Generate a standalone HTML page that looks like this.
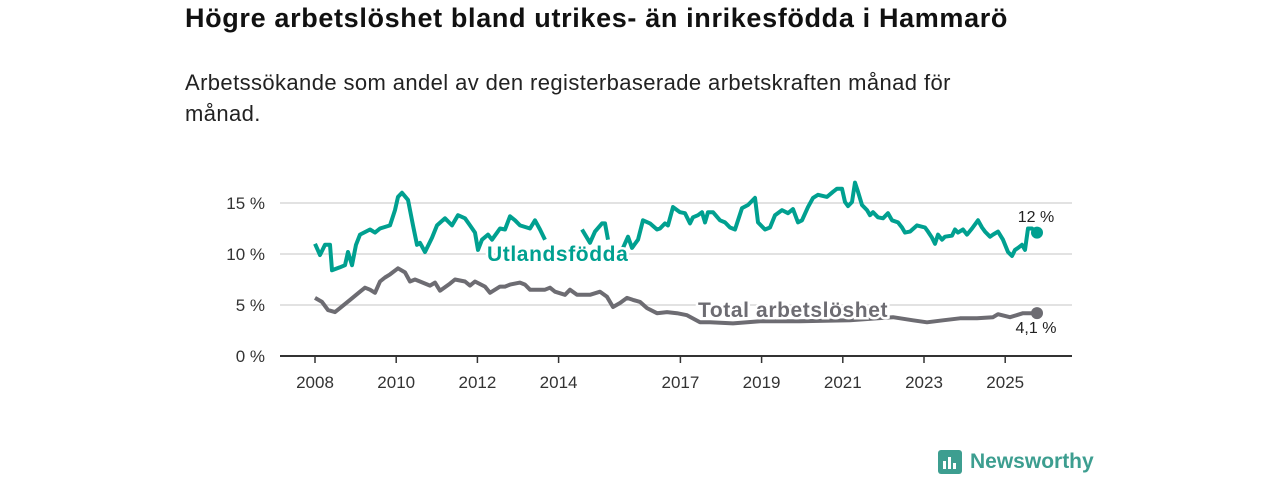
<!DOCTYPE html>
<html><head><meta charset="utf-8"><style>
body{margin:0;width:1280px;height:480px;background:#fff;font-family:"Liberation Sans",sans-serif;overflow:hidden;position:relative}
h1{position:absolute;left:185px;top:3px;margin:0;font-size:27px;letter-spacing:0.65px;font-weight:bold;color:#111;white-space:nowrap}
p{position:absolute;left:185px;top:67px;margin:0;font-size:22px;letter-spacing:0.4px;line-height:31px;color:#222;width:830px}
svg{position:absolute;left:0;top:0}
</style></head><body>
<h1>Högre arbetslöshet bland utrikes- än inrikesfödda i Hammarö</h1>
<p>Arbetssökande som andel av den registerbaserade arbetskraften månad för månad.</p>
<svg id="c" width="1280" height="480"></svg>
<script>
const yTicks=[0,5,10,15];
const xTicks=[2008,2010,2012,2014,2017,2019,2021,2023,2025];
const utlX=[315,320,325,330,332,340,345,348,352,356,360,370,375,380,390,395,398,402,408,413,417,420,425,432,437,445,452,458,465,470,475,478,482,488,492,500,505,510,515,520,530,535,540,545,null,582,590,595,602,605,608,null,623,628,632,638,643,650,657,660,665,668,673,680,685,690,693,698,702,705,708,713,720,725,730,735,742,748,755,758,765,770,775,782,788,793,798,802,808,813,818,827,833,837,842,845,848,852,855,858,862,867,870,873,878,883,888,892,898,902,905,910,917,925,928,932,935,938,942,945,952,955,958,963,967,972,978,982,985,990,993,998,1003,1008,1012,1015,1018,1022,1025,1028,1032,1037];
const utlY=[244,255,245,245,270,267,265,252,265,245,235,230,233,228,225,210,197,193,200,225,245,243,252,238,225,218,225,215,218,225,233,250,240,235,240,228,230,216,220,225,228,220,230,240,null,230,243,232,223,223,240,null,248,237,248,240,220,223,230,228,223,225,207,212,213,223,217,215,212,222,212,212,220,222,227,230,208,205,198,222,230,227,215,210,213,209,222,220,207,198,195,197,192,189,189,202,206,202,183,192,205,210,215,212,217,218,213,220,222,227,233,232,225,227,232,238,244,235,240,237,236,230,233,230,235,228,220,227,232,237,235,232,240,252,256,250,248,245,250,228,228,233];
const utlV=utlY.map(v=>v==null?null:+((356-v)/10.2).toFixed(1));
const totX=[315,322,328,335,340,350,360,365,370,375,380,385,390,398,405,410,415,420,430,435,440,450,455,465,470,475,485,490,495,500,505,510,520,525,530,535,545,550,555,565,570,577,590,600,607,613,620,627,633,640,647,657,667,677,687,700,710,733,760,800,850,893,913,927,943,960,977,993,998,1010,1023,1037];
const totV=[5.7,5.3,4.5,4.3,4.7,5.5,6.3,6.7,6.5,6.2,7.3,7.7,8.0,8.6,8.2,7.3,7.5,7.3,6.9,7.2,6.4,7.1,7.5,7.3,6.9,7.3,6.8,6.2,6.5,6.8,6.8,7.0,7.2,7.0,6.5,6.5,6.5,6.7,6.3,6.0,6.5,6.0,6.0,6.3,5.8,4.8,5.2,5.7,5.5,5.3,4.7,4.2,4.3,4.2,4.0,3.3,3.3,3.2,3.4,3.4,3.5,3.8,3.5,3.3,3.5,3.7,3.7,3.8,4.1,3.8,4.2,4.2];
const NS='http://www.w3.org/2000/svg',svg=document.getElementById('c');
const y=v=>356-v*10.2, xy=yr=>315+(yr-2008)*40.6;
function el(t,a,txt){const e=document.createElementNS(NS,t);for(const k in a)e.setAttribute(k,a[k]);if(txt!=null)e.textContent=txt;svg.appendChild(e);return e;}
yTicks.forEach(t=>{
 const g=el('line',{x1:280,x2:1072,y1:y(t),y2:y(t),stroke:t?'#d8d8d8':'#333','stroke-width':t?1.5:2});
 
 
 const l=el('text',{x:265,y:y(t)+6,'text-anchor':'end','font-size':17,fill:'#333'},t+' %');
 
 
});
xTicks.forEach(t=>{
 const tk=el('line',{x1:xy(t),x2:xy(t),y1:356,y2:363,stroke:'#333','stroke-width':1.5});
 
 
 const l=el('text',{x:xy(t),y:388,'text-anchor':'middle','font-size':17,fill:'#333'},t);
 
 
});
function path(X,V){let d='',m=true;X.forEach((x,i)=>{if(x==null){m=true;return;}d+=(m?'M':'L')+x+','+y(V[i]).toFixed(1);m=false;});return d;}
const pt=el('path',{d:path(totX,totV),fill:'none',stroke:'#6d6c72','stroke-width':4,'stroke-linejoin':'round'});


const pu=el('path',{d:path(utlX,utlV),fill:'none',stroke:'#00a090','stroke-width':4,'stroke-linejoin':'round'});


const lx=totX[totX.length-1],lu=utlV[utlV.length-1],lt=totV[totV.length-1];
const d1=el('circle',{cx:lx,cy:y(lu),r:6,fill:'#00a090'});


const d2=el('circle',{cx:lx,cy:y(lt),r:6,fill:'#6d6c72'});


const e1=el('text',{x:1036,y:222,'text-anchor':'middle','font-size':16,fill:'#222'},'12 %');


const e2=el('text',{x:1036,y:333,'text-anchor':'middle','font-size':16,fill:'#222'},'4,1 %');


const s1=el('text',{x:487,y:261,'font-size':21,'letter-spacing':0.6,'font-weight':'bold',fill:'#00a090',stroke:'#fff','stroke-width':5,'paint-order':'stroke'},'Utlandsfödda');


const s2=el('text',{x:698,y:317,'font-size':21,'letter-spacing':0.6,'font-weight':'bold',fill:'#6d6c72',stroke:'#fff','stroke-width':5,'paint-order':'stroke'},'Total arbetslöshet');


</script>
<div style="position:absolute;left:938px;top:450px;display:flex;align-items:center">
<div style="width:24px;height:24px;background:#3d9e90;border-radius:3px;position:relative"><div style="position:absolute;left:5px;bottom:5px;width:3px;height:8px;background:#fff"></div><div style="position:absolute;left:10px;bottom:5px;width:3px;height:12px;background:#fff"></div><div style="position:absolute;left:15px;bottom:5px;width:3px;height:6px;background:#fff"></div></div>
<span style="margin-left:8px;font-size:21px;font-weight:bold;color:#3d9e90">Newsworthy</span></div>
</body></html>
